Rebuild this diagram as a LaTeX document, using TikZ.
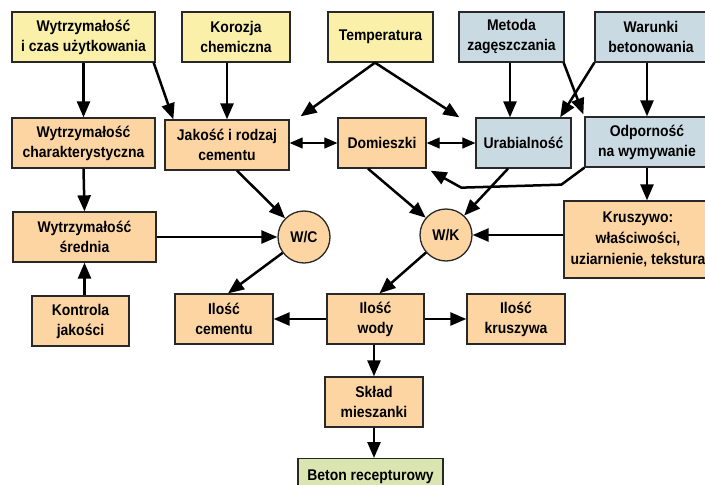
\documentclass[tikz,border=0pt]{standalone}
\usepackage{fontspec}
\setmainfont{Liberation Sans}[FakeStretch=0.9]
\usetikzlibrary{arrows.meta}
\definecolor{cyel}{RGB}{250,240,170}
\definecolor{corg}{RGB}{252,213,163}
\definecolor{cblu}{RGB}{202,218,226}
\definecolor{cgrn}{RGB}{219,229,178}
\definecolor{cbrd}{RGB}{40,40,40}
\begin{document}
\begin{tikzpicture}[x=1pt,y=-1pt,
  box/.style={draw=cbrd,line width=1.3pt,inner sep=0pt,align=center,
    font=\fontsize{15.5}{20}\selectfont\bfseries},
  ybox/.style={box,fill=cyel},
  obox/.style={box,fill=corg},
  bbox/.style={box,fill=cblu},
  gbox/.style={box,fill=cgrn},
  circ/.style={circle,draw=cbrd,line width=1.3pt,fill=corg,minimum size=52pt,inner sep=0pt,
    font=\fontsize{15.5}{20}\selectfont\bfseries},
  arr/.style={line width=2.5pt,-{Triangle[length=16pt,width=13pt]}},
  dbl/.style={line width=1.1pt,{Triangle[length=13pt,width=11pt]}-{Triangle[length=13pt,width=11pt]}}
]
\useasboundingbox (0,0) rectangle (705,485);
\clip (0,0) rectangle (705,485);
\fill[white] (0,0) rectangle (705,485);
% top row
\node[ybox,minimum width=143pt,minimum height=50pt] (wcz) at (83.5,37) {Wytrzymałość\\i czas użytkowania};
\node[ybox,minimum width=108pt,minimum height=50pt] (kor) at (236,37) {Korozja\\chemiczna};
\node[ybox,minimum width=105pt,minimum height=50pt] (tem) at (380.5,37) {Temperatura};
\node[bbox,minimum width=105pt,minimum height=50pt] (met) at (511.5,37) {Metoda\\zagęszczania};
\node[bbox,minimum width=112pt,minimum height=50pt] (war) at (651,37) {Warunki\\betonowania};
% second row
\node[obox,minimum width=143pt,minimum height=50pt] (wch) at (83.5,143) {Wytrzymałość\\charakterystyczna};
\node[obox,minimum width=124pt,minimum height=50pt] (jak) at (227,145) {Jakość i rodzaj\\cementu};
\node[obox,minimum width=88pt,minimum height=50pt] (dom) at (382,143) {Domieszki};
\node[bbox,minimum width=95pt,minimum height=50pt] (ura) at (523.5,143) {Urabialność};
\node[bbox,minimum width=124pt,minimum height=50pt] (odp) at (647,142) {Odporność\\na wymywanie};
% third row
\node[obox,minimum width=143pt,minimum height=50pt] (wsr) at (84.5,237) {Wytrzymałość\\średnia};
\node[circ] (wc) at (304,237) {W/C};
\node[circ] (wk) at (446,235) {W/K};
\node[obox,minimum width=148pt,minimum height=77pt,font=\fontsize{15.5}{21}\selectfont\bfseries] (kru) at (638,239.5) {Kruszywo:\\właściwości,\\uziarnienie, tekstura};
% fourth row
\node[obox,minimum width=97pt,minimum height=50pt] (kon) at (80.5,321) {Kontrola\\jakości};
\node[obox,minimum width=98pt,minimum height=50pt] (ilc) at (224,319) {Ilość\\cementu};
\node[obox,minimum width=97pt,minimum height=50pt] (ilw) at (375.5,319) {Ilość\\wody};
\node[obox,minimum width=98pt,minimum height=50pt] (ilk) at (516,319) {Ilość\\kruszywa};
% bottom
\node[obox,minimum width=98pt,minimum height=50pt] (skl) at (374,402) {Skład\\mieszanki};
\node[gbox,minimum width=145pt,minimum height=36pt,anchor=north] (bet) at (370.5,458) {Beton recepturowy};
% connectors
\draw[arr] (wcz.south) -- (wch.north);
\draw[arr] ([xshift=-2pt]wcz.south east) -- ([xshift=9pt]jak.north west);
\draw[arr] (jak.north |- kor.south) -- (jak.north);
\draw[arr] ([xshift=-5.5pt]tem.south) -- ([xshift=11pt,yshift=3pt]jak.north east);
\draw[arr] ([xshift=-5.5pt]tem.south) -- ([xshift=-16pt]ura.north west);
\draw[dbl] (dom.west -| jak.east) -- (dom.west);
\draw[dbl] (dom.east) -- (ura.west);
\draw[arr] ([xshift=-1.5pt]met.south) -- ([xshift=-1.5pt]met.south |- ura.north);
\draw[arr] (war.south west) -- ([xshift=-11.5pt]ura.north east);
\draw[arr] ([xshift=-1pt]met.south east) -- ([xshift=-1pt,yshift=2pt]odp.north west);
\draw[arr] (odp.north |- war.south) -- (odp.north);
\draw[arr] (odp.south west) -- ++(-23,17) -- ++(-100,3) -- ([xshift=4pt,yshift=-2pt]dom.south east);
\draw[arr] (odp.south) -- (odp.south |- kru.north);
\draw[arr] (wch.south) -- (wsr.north);
\draw[arr] (wsr.south |- kon.north) -- (wsr.south);
\draw[arr] (wsr.east) -- (wc.west);
\draw[arr] ([xshift=10pt]jak.south) -- (wc);
\draw[arr] (wc) -- ([xshift=4pt]ilc.north);
\draw[arr] ([xshift=-14pt]dom.south) -- (wk);
\draw[arr] ([xshift=-15.5pt]ura.south) -- (wk);
\draw[arr] (wk.east -| kru.west) -- (wk.east);
\draw[arr] (wk) -- ([xshift=4pt]ilw.north);
\draw[arr] (ilw.west) -- (ilc.east);
\draw[arr] (ilw.east) -- (ilk.west);
\draw[arr] ([xshift=-1.5pt]ilw.south) -- ([xshift=-1.5pt]ilw.south |- skl.north);
\draw[arr] (skl.south) -- (skl.south |- bet.north);
\end{tikzpicture}
\end{document}
